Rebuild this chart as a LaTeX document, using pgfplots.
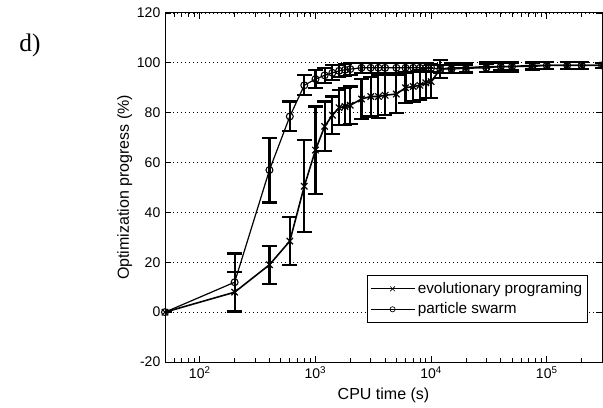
\documentclass[border=0pt]{standalone}
\usepackage{fontspec}
\setmainfont{Liberation Sans}
\newfontfamily\timesfont{Liberation Serif}
\usepackage{pgfplots}
\pgfplotsset{compat=1.18}
\usepackage{pgfplotstable}

% evolutionary programing: time, mean, error
\pgfplotstableread{
t y e
50 0 0
200 8 8
400 19 7.7
600 28.5 9.5
800 50.5 18.5
1000 65 17.5
1200 74.5 10
1400 79 7.5
1600 82 7
1800 82.5 7.5
2000 83 7.5
2500 85.5 8
3000 86.5 8
3500 86.5 8.5
4000 87 8
5000 87.5 7.5
6000 90 6
7000 90.5 6
8000 91 6
9000 92 6
10000 92.5 6.5
12000 97.5 3.5
15000 98 2
20000 98 2
30000 98.5 2
40000 98.5 2
50000 98.5 2
75000 99 1.5
100000 99 1.5
150000 99 1.5
200000 99 1.5
300000 99 1
}\evol

% particle swarm: time, mean, error
\pgfplotstableread{
t y e
50 0 0
200 12 11.5
400 57 13
600 78.5 6
800 91 4
1000 93.5 3.5
1200 95 3
1400 96 3
1600 96.8 2.5
1800 97.2 2.5
2000 97.5 2.5
2500 98 2
3000 98 2
3500 98 2
4000 98 2
5000 98 2
6000 98 1.8
7000 98 1.8
8000 98 1.8
9000 98 1.8
10000 98 1.5
12000 97.5 1.5
15000 97.5 1.5
20000 97.8 1.5
30000 98 1.5
40000 98.5 1.5
50000 98.5 1.5
75000 98.5 1.5
100000 99 1.5
150000 99 1.5
200000 99 1.5
300000 99 1
}\pso

\begin{document}
\begin{tikzpicture}
\useasboundingbox (-123.75pt,-33.75pt) rectangle (328.5pt,271.5pt);
\begin{axis}[
  scale only axis,
  width=327.75pt, height=261.75pt,
  xmode=log,
  xmin=50, xmax=300000,
  ymin=-20, ymax=120,
  ytick={-20,0,20,40,60,80,100,120},
  xtick={100,1000,10000,100000},
  xticklabels={10\textsuperscript{2},10\textsuperscript{3},10\textsuperscript{4},10\textsuperscript{5}},
  minor xtick={60,70,80,90,200,300,400,500,600,700,800,900,2000,3000,4000,5000,6000,7000,8000,9000,20000,30000,40000,50000,60000,70000,80000,90000,200000,300000},
  /pgf/number format/assume math mode=true,
  tick align=inside,
  major tick length=4.5pt,
  minor tick length=3pt,
  axis line style={line width=0.75pt},
  every tick/.style={black, line width=0.6pt},
  ymajorgrids,
  major grid style={black, line width=0.6pt, dash pattern=on 0.6pt off 2.4pt},
  tick label style={font=\fontsize{10.5}{12}\selectfont},
  label style={font=\fontsize{12}{14}\selectfont},
  xlabel={CPU time (s)},
  ylabel={Optimization progress (\%)},
  xlabel style={at={(axis description cs:0.5,-0.097)}, anchor=center},
  ylabel style={at={(axis description cs:-0.092,0.5)}, anchor=center},
  legend style={at={(0.968,0.112)}, anchor=south east, draw=black, line width=0.6pt,
    font=\fontsize{11.5}{13}\selectfont, inner xsep=2pt, inner ysep=3pt, row sep=1.5pt},
  legend cell align=left,
  legend image code/.code={\draw[mark repeat=2,mark phase=2,#1, line width=0.8pt, mark options={line width=0.5pt, scale=0.75}] plot coordinates {(0pt,0pt)(16.5pt,0pt)(33pt,0pt)};},
  errbars/.style={forget plot, black, line width=1.6pt, draw=none, mark=none,
    error bars/.cd, y dir=both, y explicit,
    error bar style={draw=black, line width=1.6pt},
    error mark options={draw=black, line width=1.6pt, mark size=5.5pt, rotate=90}},
]
% error bars first, drawn from the same tables
\addplot[errbars] table[x=t, y=y, y error=e] {\evol};
\addplot[errbars] table[x=t, y=y, y error=e] {\pso};
\addplot[black, line width=1.2pt, mark=x, mark size=3.4pt, mark options={line width=0.9pt}]
  table[x=t, y=y] {\evol};
\addlegendentry{evolutionary programing}
\addplot[black, line width=0.9pt, mark=o, mark size=2.6pt, mark options={line width=0.8pt}]
  table[x=t, y=y] {\pso};
\addlegendentry{particle swarm}
\end{axis}
\node[font=\timesfont\fontsize{19}{21}\selectfont] at (-101.25pt,237.75pt) {d)};
\end{tikzpicture}
\end{document}
